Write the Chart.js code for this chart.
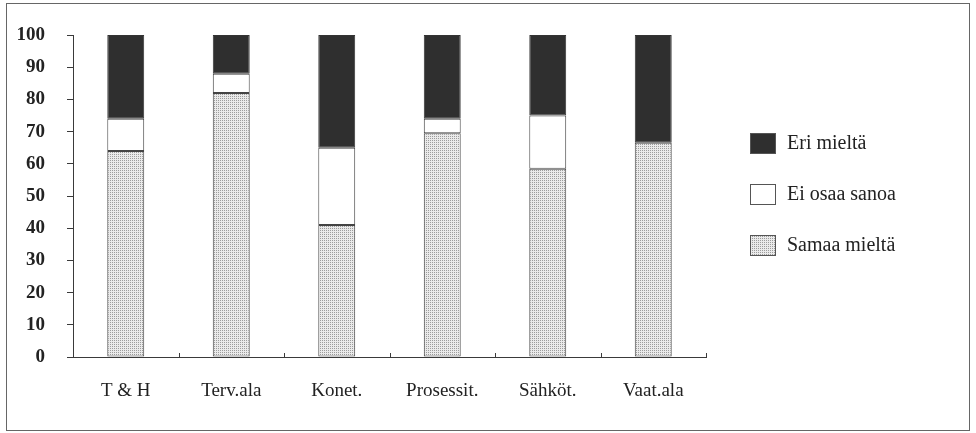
<!DOCTYPE html>
<html>
<head>
<meta charset="utf-8">
<script src="https://cdn.jsdelivr.net/npm/chart.js@4/dist/chart.umd.min.js"></script>
<style>
html,body{margin:0;padding:0;background:#fff;}
canvas{display:block;}
</style>
</head>
<body>
<canvas id="c" width="976" height="433"></canvas>
<script>
const categories = ['T & H', 'Terv.ala', 'Konet.', 'Prosessit.', 'Sähköt.', 'Vaat.ala'];
const samaaMielta = [64, 82, 41, 69.5, 58.5, 66.5];
const eiOsaaSanoa = [10, 6, 24, 4.5, 16.5, 0];
const eriMielta = [26, 12, 35, 26, 25, 33.5];
const yTicks = [0, 10, 20, 30, 40, 50, 60, 70, 80, 90, 100];
const seriesLabels = ['Samaa mieltä', 'Ei osaa sanoa', 'Eri mieltä'];

function makePattern() {
  const p = document.createElement('canvas');
  p.width = 2; p.height = 2;
  const g = p.getContext('2d');
  g.fillStyle = '#eaeaea';
  g.fillRect(0, 0, 2, 2);
  g.fillStyle = '#9c9c9c';
  g.fillRect(0, 0, 1, 1);
  return g.createPattern(p, 'repeat');
}
const ctx = document.getElementById('c').getContext('2d');
const stipple = makePattern();
const dark = '#2f2f2f';
const lineCol = '#3a3a3a';

const framePlugin = {
  id: 'frame',
  beforeDraw(chart) {
    const c = chart.ctx;
    c.save();
    c.fillStyle = '#fff';
    c.fillRect(0, 0, chart.width, chart.height);
    c.strokeStyle = '#666';
    c.lineWidth = 1;
    c.strokeRect(6.5, 3.5, chart.width - 13, chart.height - 6);
    c.restore();
  },
  afterDraw(chart) {
    const c = chart.ctx;
    const xs = chart.scales.x;
    const n = categories.length;
    c.save();
    c.strokeStyle = lineCol;
    c.lineWidth = 1;
    c.beginPath();
    for (let i = 0; i <= n; i++) {
      const x = Math.round(xs.left + i * (xs.right - xs.left) / n) + 0.5;
      c.moveTo(x, xs.top);
      c.lineTo(x, xs.top - 4);
    }
    c.stroke();
    // legend
    const items = chart.data.datasets.slice().reverse();
    const startY = 143, gap = 51;
    c.font = '20px "Liberation Serif", "DejaVu Serif", serif';
    c.textBaseline = 'middle';
    c.textAlign = 'left';
    items.forEach((ds, i) => {
      const cy = startY + i * gap;
      c.fillStyle = ds.backgroundColor;
      c.fillRect(750, cy - 10, 25, 20);
      c.strokeStyle = '#555';
      c.strokeRect(750.5, cy - 9.5, 25, 20);
      c.fillStyle = '#222';
      c.fillText(ds.label, 787, cy + 1);
    });
    c.restore();
  }
};

const barCommon = { borderWidth: 1, borderSkipped: false, categoryPercentage: 0.35, barPercentage: 1 };

new Chart(ctx, {
  type: 'bar',
  data: {
    labels: categories,
    datasets: [
      Object.assign({ label: seriesLabels[0], data: samaaMielta, backgroundColor: stipple, borderColor: '#444' }, barCommon),
      Object.assign({ label: seriesLabels[1], data: eiOsaaSanoa, backgroundColor: '#ffffff', borderColor: '#444' }, barCommon),
      Object.assign({ label: seriesLabels[2], data: eriMielta, backgroundColor: dark, borderColor: '#333' }, barCommon)
    ]
  },
  options: {
    responsive: false,
    animation: false,
    devicePixelRatio: 1,
    layout: { padding: { left: 0, right: 270, top: 35, bottom: 0 } },
    plugins: { legend: { display: false }, tooltip: { enabled: false } },
    scales: {
      x: {
        stacked: true,
        grid: { display: false },
        border: { display: true, color: lineCol, width: 1 },
        ticks: {
          color: '#222',
          padding: 15,
          font: { family: '"Liberation Serif", "DejaVu Serif", serif', size: 19 }
        },
        afterFit(s) { s.height = 76; }
      },
      y: {
        stacked: true,
        min: 0,
        max: 100,
        afterBuildTicks(s) { s.ticks = yTicks.map(v => ({ value: v })); },
        grid: { drawOnChartArea: false, drawTicks: true, tickLength: 6, color: lineCol },
        border: { display: true, color: lineCol, width: 1 },
        ticks: {
          color: '#222',
          padding: 22,
          font: { family: '"Liberation Serif", "DejaVu Serif", serif', size: 19, weight: 'bold' }
        },
        afterFit(s) { s.width = 73; }
      }
    }
  },
  plugins: [framePlugin]
});
</script>
</body>
</html>
